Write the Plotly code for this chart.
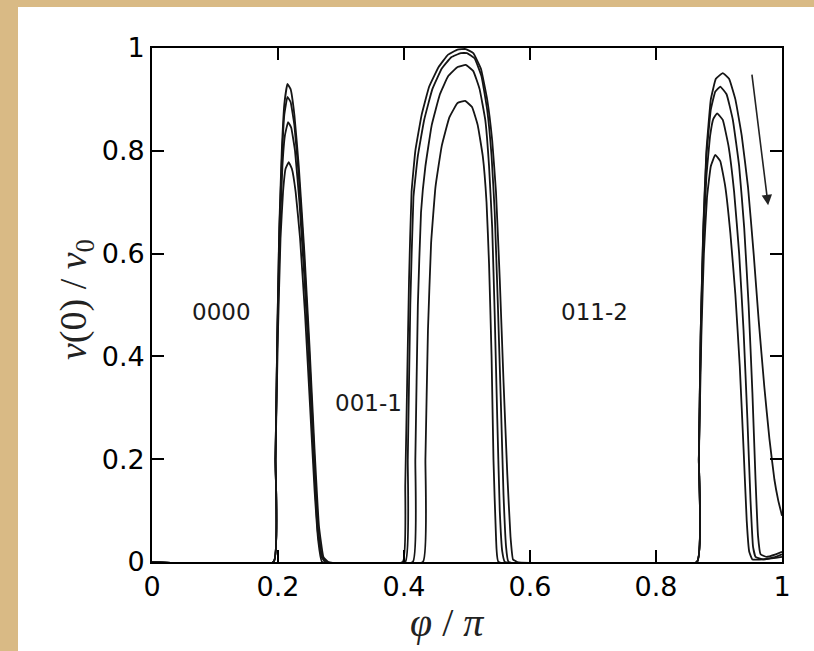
import plotly.graph_objects as go

# ---- data ----
# Curve A (highest peaks)
xA = [0.0, 0.193, 0.196, 0.199, 0.202, 0.206, 0.210, 0.215, 0.220, 0.226, 0.233, 0.242, 0.250, 0.258, 0.265, 0.272, 0.280,
      0.398, 0.402, 0.405, 0.408, 0.412, 0.418, 0.428, 0.440, 0.455, 0.470, 0.485, 0.498, 0.510, 0.522, 0.532, 0.540, 0.546, 0.552, 0.558, 0.564, 0.569, 0.573, 0.580,
      0.865, 0.868, 0.871, 0.875, 0.880, 0.887, 0.895, 0.906, 0.916, 0.926, 0.936, 0.946, 0.955, 0.963, 0.972, 0.980, 0.988, 0.994, 0.998, 1.0]
yA = [0.0, 0.0, 0.20, 0.45, 0.65, 0.80, 0.89, 0.93, 0.92, 0.87, 0.77, 0.60, 0.42, 0.22, 0.07, 0.01, 0.0,
      0.0, 0.15, 0.35, 0.55, 0.72, 0.80, 0.87, 0.925, 0.963, 0.987, 0.997, 0.998, 0.99, 0.96, 0.90, 0.82, 0.72, 0.55, 0.35, 0.17, 0.05, 0.005, 0.0,
      0.0, 0.20, 0.45, 0.65, 0.80, 0.90, 0.94, 0.951, 0.94, 0.90, 0.83, 0.73, 0.60, 0.47, 0.34, 0.24, 0.16, 0.12, 0.10, 0.09]

# Curve B
xB = [0.0, 0.193, 0.196, 0.199, 0.202, 0.206, 0.210, 0.215, 0.220, 0.226, 0.233, 0.241, 0.249, 0.257, 0.263, 0.270, 0.277,
      0.402, 0.406, 0.410, 0.415, 0.422, 0.432, 0.445, 0.460, 0.475, 0.490, 0.500, 0.512, 0.523, 0.532, 0.539, 0.544, 0.549, 0.554, 0.558, 0.562, 0.566,
      0.865, 0.868, 0.871, 0.875, 0.880, 0.887, 0.894, 0.902, 0.912, 0.922, 0.932, 0.940, 0.947, 0.953, 0.958, 0.962, 0.966, 0.975, 0.990, 1.0]
yB = [0.0, 0.0, 0.20, 0.45, 0.64, 0.78, 0.87, 0.905, 0.895, 0.85, 0.75, 0.60, 0.42, 0.22, 0.07, 0.01, 0.0,
      0.0, 0.20, 0.50, 0.71, 0.79, 0.86, 0.92, 0.96, 0.982, 0.99, 0.99, 0.98, 0.945, 0.88, 0.79, 0.68, 0.50, 0.30, 0.13, 0.03, 0.0,
      0.0, 0.20, 0.45, 0.64, 0.79, 0.88, 0.915, 0.925, 0.91, 0.86, 0.77, 0.65, 0.50, 0.33, 0.16, 0.05, 0.015, 0.01, 0.015, 0.02]

# Curve C
xC = [0.0, 0.193, 0.196, 0.199, 0.203, 0.207, 0.211, 0.216, 0.221, 0.227, 0.234, 0.242, 0.250, 0.257, 0.263, 0.269, 0.275,
      0.414, 0.418, 0.422, 0.427, 0.434, 0.444, 0.457, 0.470, 0.485, 0.498, 0.510, 0.520, 0.529, 0.535, 0.540, 0.544, 0.548, 0.552, 0.556, 0.560,
      0.865, 0.868, 0.871, 0.875, 0.880, 0.886, 0.891, 0.897, 0.906, 0.915, 0.924, 0.932, 0.939, 0.945, 0.950, 0.954, 0.958, 0.970, 0.990, 1.0]
yC = [0.0, 0.0, 0.20, 0.44, 0.64, 0.77, 0.83, 0.856, 0.845, 0.80, 0.70, 0.55, 0.37, 0.19, 0.06, 0.01, 0.0,
      0.0, 0.20, 0.50, 0.68, 0.77, 0.85, 0.91, 0.945, 0.963, 0.967, 0.955, 0.92, 0.86, 0.77, 0.65, 0.48, 0.28, 0.10, 0.02, 0.0,
      0.0, 0.20, 0.44, 0.62, 0.75, 0.83, 0.862, 0.873, 0.86, 0.81, 0.72, 0.60, 0.45, 0.28, 0.12, 0.03, 0.01, 0.005, 0.01, 0.015]

# Curve D (lowest peaks)
xD = [0.0, 0.193, 0.196, 0.200, 0.204, 0.208, 0.212, 0.217, 0.222, 0.228, 0.235, 0.243, 0.251, 0.258, 0.264, 0.270,
      0.430, 0.434, 0.438, 0.443, 0.450, 0.460, 0.472, 0.485, 0.497, 0.508, 0.517, 0.525, 0.531, 0.535, 0.539, 0.542, 0.546, 0.550,
      0.865, 0.868, 0.872, 0.876, 0.881, 0.887, 0.894, 0.902, 0.910, 0.918, 0.926, 0.933, 0.939, 0.944, 0.948, 0.953, 0.970, 0.990, 1.0]
yD = [0.0, 0.0, 0.20, 0.45, 0.63, 0.72, 0.765, 0.778, 0.765, 0.72, 0.63, 0.48, 0.30, 0.14, 0.04, 0.0,
      0.0, 0.20, 0.45, 0.62, 0.73, 0.81, 0.865, 0.893, 0.897, 0.885, 0.85, 0.79, 0.70, 0.58, 0.40, 0.20, 0.05, 0.0,
      0.0, 0.20, 0.44, 0.60, 0.71, 0.77, 0.792, 0.78, 0.73, 0.64, 0.52, 0.38, 0.22, 0.08, 0.02, 0.005, 0.005, 0.008, 0.01]

curves = [(xA, yA), (xB, yB), (xC, yC), (xD, yD)]

tick_vals = [0, 0.2, 0.4, 0.6, 0.8, 1]
tick_text = ["0", "0.2", "0.4", "0.6", "0.8", "1"]

labels = ["0000", "001-1", "011-2"]
label_x = [0.111, 0.343, 0.703]
label_y = [0.487, 0.309, 0.486]

arrow_tail = (0.952, 0.951)
arrow_head = (0.978, 0.694)

x_title = "<i>φ</i> / <i>π</i>"
y_title = "<i>ν</i>(0) / <i>ν</i><sub>0</sub>"

# ---- figure ----
fig = go.Figure()
for xs, ys in curves:
    fig.add_trace(go.Scatter(x=xs, y=ys, mode="lines",
                             line=dict(color="#151515", width=1.8, shape="spline", smoothing=0.3),
                             showlegend=False, hoverinfo="skip"))

for t, lx, ly in zip(labels, label_x, label_y):
    fig.add_annotation(x=lx, y=ly, text=t, showarrow=False,
                       font=dict(family="DejaVu Sans", size=23, color="#1a1a1a"))

fig.add_annotation(x=arrow_head[0], y=arrow_head[1], ax=arrow_tail[0], ay=arrow_tail[1],
                   axref="x", ayref="y", xref="x", yref="y", text="", showarrow=True,
                   arrowhead=2, arrowsize=1.3, arrowwidth=1.6, arrowcolor="#222")

# axis titles as annotations for exact placement
fig.add_annotation(xref="paper", yref="paper", x=(447 - 152) / 630, y=(562 - 622) / 514,
                   text=x_title, showarrow=False, xanchor="center", yanchor="middle",
                   font=dict(family="Liberation Serif", size=40, color="#222"))
fig.add_annotation(xref="paper", yref="paper", x=(76 - 152) / 630, y=(562 - 300) / 514,
                   text=y_title, showarrow=False, xanchor="center", yanchor="middle",
                   textangle=-90,
                   font=dict(family="Liberation Serif", size=38, color="#222"))

# tan frame / white page
fig.add_shape(type="rect", xref="paper", yref="paper",
              x0=(18 - 152) / 630, x1=(830 - 152) / 630,
              y0=(562 - 670) / 514, y1=(562 - 7) / 514,
              fillcolor="white", line=dict(width=0), layer="below")

axis_common = dict(range=[0, 1], showline=True, linecolor="black", linewidth=1.6,
                   mirror="ticks", ticks="inside", ticklen=12, tickwidth=1.5,
                   tickcolor="black", showgrid=False, zeroline=False,
                   tickvals=tick_vals, ticktext=tick_text,
                   tickfont=dict(family="DejaVu Sans", size=27, color="black"))

fig.update_layout(
    width=814, height=651,
    margin=dict(l=152, r=32, t=48, b=89),
    paper_bgcolor="#D9BA85", plot_bgcolor="white",
    xaxis=dict(**axis_common),
    yaxis=dict(**axis_common),
)

fig.write_html("out.html", config={"displayModeBar": False},
               post_script="document.body.style.margin='0';document.body.style.padding='0';")
